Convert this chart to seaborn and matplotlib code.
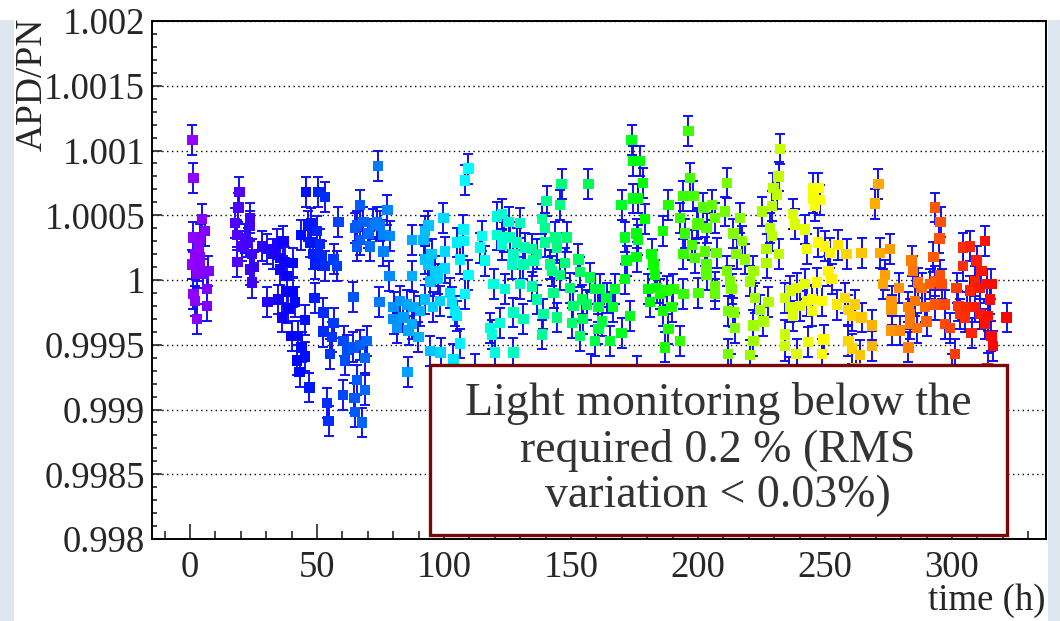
import numpy as np
import pandas as pd
import matplotlib
matplotlib.use("Agg")
import matplotlib.pyplot as plt
from matplotlib.colors import ListedColormap, hsv_to_rgb
from matplotlib.patches import Rectangle
from matplotlib.ticker import FixedLocator, FixedFormatter, MultipleLocator
import seaborn as sns

# ===== DATA (time in h, deviation of APD/PN from 1 in units of 1e-4) =====
t_run1 = [0.9, 1.3, 4.6, 5.9, 1.3, 3.9, 3.3, 0.7, 3.7, 7.2, 2.6, 5.2, 6.6, 1.3, 1.9, 6.6, 2.6, 3.9, 1.9]
d_run1 = [10.8, 7.9, 4.7, 3.8, 3.3, 3.2, 2.5, 1.2, 1.1, 0.7, 0.5, 0.5, -0.7, -1.1, -1.6, -2.0, -3.0, 1.7, 2.0]

t_run2 = [19.4, 19.0, 17.7, 23.6, 23.6, 18.4, 21.6, 20.3, 24.3, 18.6, 23.6, 25.2, 24.3, 22.9]
d_run2 = [6.8, 5.6, 4.4, 4.8, 4.2, 3.5, 3.2, 2.6, 2.0, 1.4, 0.8, 1.0, -0.2, 2.9]

t_run3 = [28.2, 30.4, 34.1, 36.7, 32.8, 35.4, 37.3, 40.6, 35.4, 38.0, 30.4, 34.8, 38.0, 40.6, 36.1,
          38.7, 41.3, 40.0, 42.6, 45.3, 43.9, 45.3, 42.0, 43.1, 47.0]
d_run3 = [2.6, 2.4, 2.8, 3.0, 2.0, 1.7, 1.4, 1.3, 0.8, 0.3, -1.7, -1.5, -0.9, -0.9, -2.9,
          -2.2, -1.7, -4.3, -4.3, -3.1, -5.2, -5.9, -6.2, -7.1, -8.3]

t_run4 = [45.7, 50.5, 53.2, 58.4, 47.5, 46.6, 43.6, 49.9, 47.2, 51.2, 48.5, 51.8, 49.1, 53.2, 56.5, 57.8]
d_run4 = [6.8, 6.8, 6.4, 4.5, 4.4, 4.2, 3.5, 3.8, 2.9, 2.8, 2.0, 1.9, 1.2, 1.1, 1.6, 1.1]

t_run5 = [49.0, 52.5, 52.5, 56.5, 55.8, 55.1, 60.4, 61.7, 61.0, 64.3, 53.8, 54.5, 60.1, 64.7, 65.7,
          67.0, 69.5, 68.9, 68.9, 65.0, 67.7, 64.3]
d_run5 = [-1.4, -2.5, -4.0, -3.3, -4.4, -5.7, -4.7, -5.4, -6.2, -5.2, -9.5, -10.9, -8.9, -9.1, -7.7,
          -5.0, -4.7, -6.0, -8.5, -10.2, -11.0, -1.3]

t_run6 = [74.1, 66.9, 77.7, 65.6, 65.0, 66.9, 70.2, 72.2, 74.8, 76.1, 78.7, 65.6, 70.9, 76.1, 68.2,
          73.5, 78.5, 74.5]
d_run6 = [8.8, 5.8, 5.4, 4.2, 4.0, 3.1, 3.6, 4.3, 4.2, 3.5, 3.4, 2.6, 2.6, 2.2, 4.5,
          4.5, 0.3, -1.7]

t_run7 = [87.3, 87.3, 80.1, 82.7, 85.3, 88.0, 90.6, 80.1, 84.0, 87.3, 81.4, 86.0, 89.9, 92.5, 85.6,
          93.8, 92.5, 91.9, 92.5, 95.1, 93.8, 96.4, 97.7, 94.4, 95.7, 98.3, 94.4, 98.6, 99.7, 100.4,
          100.4, 102.4, 103.0, 104.3, 105.0, 103.7, 106.3, 107.6, 105.0, 107.6, 106.3, 109.6, 108.2,
          109.6, 108.3]
d_run7 = [3.1, 0.3, -2.1, -1.6, -1.9, -2.1, -2.4, -3.0, -2.9, -3.4, -3.7, -3.9, -4.4, -1.5, -7.1,
          4.2, 3.8, 3.1, 1.6, 2.0, 1.2, 0.7, 0.1, -0.1, -2.1, -1.6, -5.5, -5.6, 4.8, 2.2,
          0.9, -1.0, -1.7, -2.4, -2.8, -6.1, -4.9, 3.9, 2.9, 3.0, 1.6, 0.4, -1.1,
          8.6, 7.7]

t_run8 = [114.2, 114.9, 116.2, 119.5, 118.2, 118.8, 120.1, 122.1, 124.1, 127.3, 127.3, 120.8, 122.8,
          125.4, 120.8, 123.4, 126.0, 122.8, 128.6, 129.9, 131.8, 131.2, 129.9, 131.2, 127.3, 126.7]
d_run8 = [2.5, 3.4, 1.5, -0.3, -3.7, -4.2, -5.6, -3.3, -0.7, -2.5, -5.6, 4.9, 5.1,
          4.5, 3.5, 3.3, 3.3, 2.7, 2.9, 4.4, 2.5, 1.2, -0.3, -3.0, 2.0, 1.2]

t_run9 = [134.5, 135.2, 136.7, 134.5, 136.5, 138.5, 139.1, 140.4, 138.5, 139.8, 139.8, 141.7, 142.4,
          143.1, 144.4, 143.8, 144.4, 146.3, 145.7, 148.3, 147.6, 145.7, 149.6, 150.9, 150.3, 152.9,
          153.5, 154.2, 154.8, 153.5, 156.8, 157.5, 156.2, 159.4, 159.4, 161.4, 160.8, 162.1, 160.8,
          164.0, 165.3, 167.3, 166.6]
d_run9 = [2.4, 1.5, 2.0, -0.5, -1.5, -4.2, -2.6, 6.1, 4.7, 4.0, 2.9, 1.2, 0.7,
          -1.0, -2.9, 3.3, 2.5, 7.4, 5.8, 3.3, 1.3, 0.4, -0.6, -2.0, -3.3, 1.6,
          0.6, -1.5, -3.0, -4.3, 7.4, 0.2, -1.9, -0.7, -4.7, -0.7, -2.1, -3.2, -3.8,
          -1.4, -4.7, -0.7, -2.1]

t_run10 = [169.9, 171.2, 171.9, 171.2, 169.9, 173.2, 173.8, 174.5, 177.1, 178.4, 174.5, 176.4, 179.0,
           175.8, 176.4, 175.8, 181.7, 182.4, 183.0, 180.4, 181.1, 183.7, 185.0, 187.6, 186.3, 188.3,
           187.0, 189.6, 190.3, 192.9, 194.2, 186.3, 188.3, 192.9, 194.2, 196.9, 194.9, 194.2, 196.2,
           198.2, 197.6, 198.9, 199.6]
d_run10 = [5.8, 3.3, 1.5, 0.1, -4.1, -2.8, 10.8, 9.2, 9.2, 7.5, 6.3, 6.3, 4.7,
           3.6, 3.1, 1.8, 2.0, 1.2, 0.4, -0.7, -1.7, -0.6, -1.1, -0.8, -2.4, -3.8,
           -5.2, -2.1, -0.7, -4.7, -1.1, 3.8, 5.8, 4.8, 6.5, 7.9, 3.6, 2.0, 11.5,
           6.5, 2.7, 1.7, 4.3]

t_run11 = [200.1, 202.1, 205.4, 206.7, 203.4, 202.8, 207.3, 203.4, 203.4, 206.7, 200.1, 206.7, 211.3,
           210.6, 211.3, 212.6, 213.2, 211.9, 213.9, 214.6, 211.9, 213.9, 216.5, 217.2, 215.2, 218.5,
           220.5, 221.8, 222.4, 224.4, 221.8, 221.8, 220.5, 225.1, 228.4, 229.0, 227.0, 227.0, 227.7,
           225.7, 229.0, 229.7, 231.7, 231.1, 232.3, 231.8]
d_run11 = [4.4, 5.6, 5.8, 4.8, 4.0, 2.2, 2.1, 1.2, 0.4, -0.5, -1.0, -1.1, 7.5,
           5.3, 0.7, -0.1, -0.7, -2.4, -2.5, -3.7, -5.7, 3.6, 4.8, 3.0, 2.0, 1.6,
           -0.1, 0.7, -1.4, -2.3, -3.5, -4.7, -5.8, 5.3, 4.0, 3.4, 2.4, 1.3, -1.7,
           -3.2, 5.7, 7.1, 8.0, 6.6, 10.1, 2.0]

t_run12 = [234.3, 236.2, 238.8, 242.1, 236.2, 237.5, 240.2, 242.8, 244.8, 246.8, 244.8, 234.3, 234.3,
           238.8, 243.4, 237.5, 238.2, 242.1, 242.8, 245.4, 247.4, 245.4, 248.1, 246.1, 247.4, 250.0,
           252.0, 255.2, 258.5, 251.3, 252.6, 248.7, 254.6, 257.9, 259.2, 261.8, 260.5, 264.4, 249.4,
           248.7, 259.2, 260.5, 263.8, 264.4]
d_run12 = [-1.4, -0.8, -0.6, -0.3, -2.1, -2.8, -2.0, -1.6, -1.5, -0.2, -2.4, -4.2, -5.1,
           -5.7, -4.8, 5.1, 4.3, 3.9, 2.4, 7.1, 7.1, 6.3, 6.2, 5.7, 2.9, 2.6,
           2.1, 2.7, 2.0, 0.7, 0.1, -1.6, -1.9, -1.4, -2.3, -1.9, -2.8, -2.9, -4.6,
           -5.7, -4.7, -5.3, -5.8, 2.1]

t_run13 = [271.0, 269.7, 271.6, 275.5, 273.6, 272.9, 276.2, 276.2, 279.0, 268.4, 268.4, 276.2, 279.5,
           282.8, 284.1, 284.7, 286.7, 288.0, 282.8, 283.5, 285.4, 283.5, 286.1, 289.3, 290.0, 291.3,
           293.3, 292.7, 293.3, 293.3, 295.5, 295.0]
d_run13 = [7.4, 5.9, 2.1, 2.4, 0.4, -0.3, -1.6, -2.3, -0.6, -3.5, -5.1, -3.9, -3.9,
           -5.2, 1.5, 0.7, -0.2, -0.6, -2.1, -2.6, -1.6, -3.4, -3.7, -2.1, -3.2, -0.3,
           -0.1, 1.8, -1.9, 5.6, 4.5, 3.2]

t_run14 = [295.2, 295.9, 297.2, 297.2, 299.2, 301.1, 301.8, 302.5, 304.4, 307.1, 304.4, 303.1, 305.7,
           305.1, 307.7, 307.1, 309.0, 309.7, 311.6, 312.9, 310.9, 313.6, 315.5, 309.0, 310.9, 314.2,
           312.9, 314.9, 315.5, 316.2, 321.5]
d_run14 = [0.4, -0.3, -1.9, -3.4, -3.7, -5.7, -0.6, -2.0, 2.5, 2.6, 1.1, -2.6, -2.1,
           -2.9, -4.1, -0.8, -0.1, 1.5, 0.7, 3.0, -0.6, -0.3, -0.3, -2.1, -2.6, -2.8,
           -3.4, -1.5, -4.3, -5.1, -2.9]

# points partly hidden behind the text box
t_low = [112.0, 158.0, 176.0, 213.0, 236.0, 262.0, 300.0, 314.0]
d_low = [-6.9, -6.9, -7.0, -6.9, -7.1, -6.8, -6.9, -6.8]

ERR = 1.15e-4

y_ticks = [0.998, 0.9985, 0.999, 0.9995, 1.0, 1.0005, 1.001, 1.0015, 1.002]
y_tick_labels = ["0.998", "0.9985", "0.999", "0.9995", "1", "1.0005", "1.001", "1.0015", "1.002"]
x_ticks = [0, 50, 100, 150, 200, 250, 300]
x_tick_labels = ["0", "50", "100", "150", "200", "250", "300"]

note = "Light monitoring below the\nrequired 0.2 % (RMS\nvariation < 0.03%)"

# ---------------------------------------------------------------------------
def main():
    runs_t = [t_run1, t_run2, t_run3, t_run4, t_run5, t_run6, t_run7, t_run8, t_run9,
              t_run10, t_run11, t_run12, t_run13, t_run14, t_low]
    runs_d = [d_run1, d_run2, d_run3, d_run4, d_run5, d_run6, d_run7, d_run8, d_run9,
              d_run10, d_run11, d_run12, d_run13, d_run14, d_low]
    df = pd.DataFrame({
        "time": np.concatenate(runs_t),
        "ratio": 1.0 + np.concatenate(runs_d) * 1e-4,
    })

    sns.set_style("ticks")
    plt.rcParams["font.family"] = ["Liberation Serif", "DejaVu Serif"]

    # ROOT-like palette: violet -> blue -> cyan -> green -> yellow -> red
    hues = np.linspace(275, 0, 256) / 360.0
    cmap = ListedColormap(hsv_to_rgb(np.stack([hues, np.ones(256), np.ones(256)], axis=1)))

    fig = plt.figure(figsize=(10.6, 6.21), dpi=100)
    fig.patch.set_facecolor("white")
    for x0 in (0.0, 1048 / 1060):
        fig.patches.append(Rectangle((x0, 0), 14 / 1060, 601 / 621, transform=fig.transFigure,
                                     facecolor="#dde5ef", edgecolor="none", zorder=0))

    ax = fig.add_axes([0.1434, 0.132, 0.8434, 0.8341])

    ax.errorbar(df["time"], df["ratio"], yerr=ERR, fmt="none", ecolor="#1010f8",
                elinewidth=1.4, capsize=3.4, capthick=1.4, zorder=2)
    sns.scatterplot(data=df, x="time", y="ratio", hue="time", palette=cmap, hue_norm=(0, 318),
                    marker="s", s=56, linewidth=0, legend=False, ax=ax, zorder=3)

    ax.set_xlim(-15, 337)
    ax.set_ylim(0.998, 1.002)
    ax.set_xlabel("")
    ax.set_ylabel("")

    ax.yaxis.set_major_locator(FixedLocator(y_ticks))
    ax.yaxis.set_major_formatter(FixedFormatter(y_tick_labels))
    ax.yaxis.set_minor_locator(MultipleLocator(0.0001))
    ax.xaxis.set_major_locator(FixedLocator(x_ticks))
    ax.xaxis.set_major_formatter(FixedFormatter(x_tick_labels))
    ax.xaxis.set_minor_locator(MultipleLocator(10))

    ax.tick_params(axis="y", which="major", direction="in", length=7, width=1.2, labelsize=26.5,
                   pad=5, right=False)
    ax.tick_params(axis="y", which="minor", direction="in", length=3.6, width=1.2, right=False)
    ax.tick_params(axis="x", which="major", direction="in", length=11, width=1.2, labelsize=26.5,
                   pad=8, top=False)
    ax.tick_params(axis="x", which="minor", direction="in", length=5.5, width=1.2, top=False)

    ax.yaxis.grid(True, which="major", color="black", linestyle=(0, (1, 2.5)), linewidth=1.0)
    ax.xaxis.grid(False)
    for side in ["left", "bottom", "top", "right"]:
        ax.spines[side].set_visible(True)
        ax.spines[side].set_color("black")
        ax.spines[side].set_linewidth(1.4)

    fig.text(0.031, 0.972, "APD/PN", rotation=90, ha="center", va="top", fontsize=27)
    fig.text(0.986, 0.032, "time (h)", ha="right", va="center", fontsize=26.5)

    # Annotation box
    box = Rectangle((430 / 1060, 86 / 621), 577 / 1060, 170 / 621, transform=fig.transFigure,
                    facecolor="white", edgecolor="#7a0606", linewidth=2.4, zorder=5)
    fig.add_artist(box)
    fig.text(718 / 1060, 171 / 621, note, ha="center", va="center", fontsize=33,
             color="#333333", linespacing=1.1, zorder=6)

    fig.savefig("out.png", dpi=100)


if __name__ == "__main__":
    main()
